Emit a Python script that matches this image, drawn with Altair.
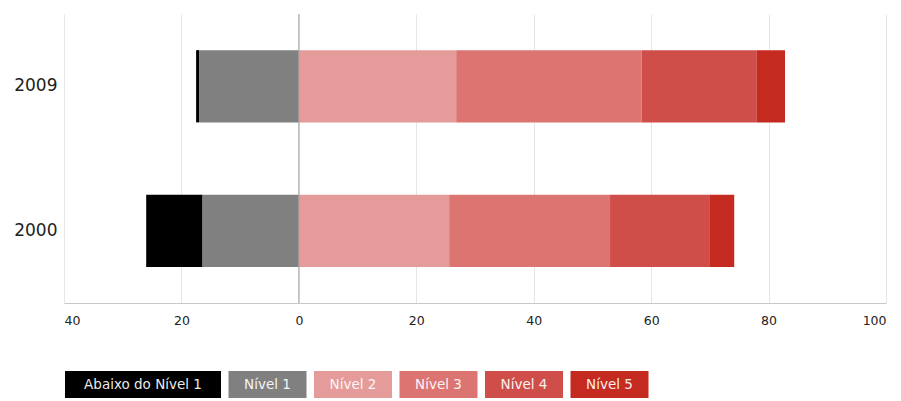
import altair as alt
import pandas as pd

years = ["2009", "2000"]
levels = ["Abaixo do Nível 1", "Nível 1", "Nível 2", "Nível 3", "Nível 4", "Nível 5"]
colors = ["#000000", "#808080", "#e59b9a", "#dc7472", "#d04e4a", "#c52a21"]
stack_order = [1, 0, 2, 3, 4, 5]
sign = [-1, -1, 1, 1, 1, 1]
values_2009 = [0.5, 17.0, 26.8, 31.6, 19.6, 4.8]
values_2000 = [9.6, 16.4, 25.6, 27.4, 16.9, 4.25]

rows = []
for yr, vals in zip(years, [values_2009, values_2000]):
    for i, lv in enumerate(levels):
        rows.append({"ano": yr, "nivel": lv, "valor": sign[i] * vals[i], "ordem": stack_order[i]})
df = pd.DataFrame(rows)

color_scale = alt.Scale(domain=levels, range=colors)
FONT = "DejaVu Sans"

bars = alt.Chart(df).mark_bar().encode(
    y=alt.Y("ano:N", sort=years, title=None,
            scale=alt.Scale(paddingInner=0.5, paddingOuter=0.25),
            axis=alt.Axis(domain=False, ticks=False, labelFontSize=17, labelColor="#222",
                          labelFont=FONT, labelPadding=7, minExtent=48, maxExtent=48)),
    x=alt.X("valor:Q", stack="zero", title=None,
            scale=alt.Scale(domain=[-40, 100], nice=False),
            axis=alt.Axis(values=[-40, -20, 0, 20, 40, 60, 80, 100], labelExpr="abs(datum.value)",
                          grid=True, gridColor="#e6e6e6", domainColor="#c8c8c8", ticks=False,
                          labelPadding=11, labelFontSize=12.5, labelColor="#222", labelFont=FONT)),
    color=alt.Color("nivel:N", scale=color_scale, legend=None),
    order=alt.Order("ordem:Q", sort="ascending"),
)

zero = alt.Chart(pd.DataFrame({"x": [0]})).mark_rule(color="#a0a0a0", strokeWidth=1).encode(x="x:Q")

top = alt.layer(bars, zero).properties(width=822, height=289)

# legend built from the level names
widths = [7.8 * len(l) + 23.4 for l in levels]
starts, ends = [], []
pos = 1.0
for w in widths:
    starts.append(pos)
    ends.append(pos + w)
    pos += w + 7.5
leg_df = pd.DataFrame({"nivel": levels, "start": starts, "end": ends})
leg_df["mid"] = (leg_df["start"] + leg_df["end"]) / 2

lx = alt.Scale(domain=[0, 822], nice=False, zero=False)
leg_rect = alt.Chart(leg_df).mark_rect().encode(
    x=alt.X("start:Q", scale=lx, axis=None),
    x2="end:Q",
    y=alt.value(0), y2=alt.value(27),
    color=alt.Color("nivel:N", scale=color_scale, legend=None),
)
leg_text = alt.Chart(leg_df).mark_text(color="white", fontSize=13.5, font=FONT, baseline="middle",
                                        align="center", opacity=0.92).encode(
    x=alt.X("mid:Q", scale=lx, axis=None),
    y=alt.value(14),
    text="nivel:N",
)
legend = alt.layer(leg_rect, leg_text).properties(width=822, height=27)

chart = alt.vconcat(top, legend, spacing=44).configure_view(stroke=None)
chart.save("out.html", embed_options={"renderer": "svg", "actions": False})
